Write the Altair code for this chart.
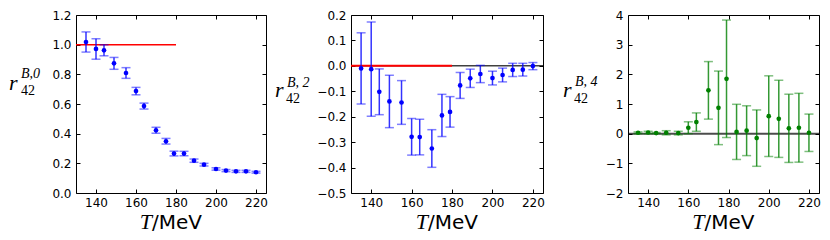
import altair as alt
import pandas as pd

# ---- data ----
T = [135, 140, 144, 149, 155, 160, 164, 170, 175, 179, 184, 189, 194, 200, 205, 210, 215, 220]

r0 = [1.018, 0.971, 0.962, 0.874, 0.809, 0.687, 0.586, 0.423, 0.349, 0.266,
      0.266, 0.218, 0.191, 0.162, 0.151, 0.146, 0.146, 0.140]
e0 = [0.068, 0.069, 0.037, 0.040, 0.036, 0.025, 0.020, 0.020, 0.019, 0.016,
      0.015, 0.011, 0.009, 0.008, 0.007, 0.007, 0.007, 0.006]

r2 = [-0.010, -0.013, -0.102, -0.140, -0.144, -0.279, -0.280, -0.325, -0.195, -0.181,
      -0.077, -0.049, -0.032, -0.048, -0.036, -0.016, -0.015, -0.001]
e2 = [0.140, 0.185, 0.090, 0.103, 0.086, 0.072, 0.070, 0.074, 0.083, 0.060,
      0.051, 0.036, 0.034, 0.027, 0.027, 0.026, 0.025, 0.014]

r4 = [0.03, 0.04, 0.02, 0.03, 0.02, 0.20, 0.39, 1.46, 0.87, 1.85,
      0.06, 0.10, -0.15, 0.59, 0.50, 0.18, 0.20, 0.03]
e4 = [0.03, 0.04, 0.02, 0.07, 0.06, 0.20, 0.31, 0.97, 1.24, 1.98,
      0.93, 0.84, 0.95, 1.36, 1.30, 1.15, 1.16, 0.63]

x_domain = [130, 225]
x_ticks = [140, 160, 180, 200, 220]

y0_domain = [0.0, 1.2]
y0_ticks = [0.0, 0.2, 0.4, 0.6, 0.8, 1.0, 1.2]
y2_domain = [-0.5, 0.2]
y2_ticks = [-0.5, -0.4, -0.3, -0.2, -0.1, 0.0, 0.1, 0.2]
y4_domain = [-2, 4]
y4_ticks = [-2, -1, 0, 1, 2, 3, 4]

# reference lines: (x start, x end, y)
red0 = [130, 180, 1.0]
red2 = [130, 180, 0.0]
zero_line = [130, 225, 0.0]

sup_texts = ["B,0", "B, 2", "B, 4"]

H = 178
FONT = "DejaVu Sans"
SERIF = "Liberation Serif"


def label_axis(orient, ticks, fmt):
    return alt.Axis(orient=orient, values=ticks, format=fmt, ticks=False, tickSize=0,
                    domain=False, grid=False, title=None, labelFont=FONT,
                    labelFontSize=12, labelColor="black",
                    labelPadding=5 if orient == "left" else 4)


def tick_axis(orient, ticks):
    return alt.Axis(orient=orient, values=ticks, labels=False, ticks=True, tickSize=4,
                    tickColor="black", tickWidth=1, offset=-4, domain=False,
                    grid=False, title=None)


def panel(vals, errs, color, ydom, yticks, yfmt, width, lines, sup, lab):
    df = pd.DataFrame({"T": T, "v": vals, "e": errs})
    df["lo"] = df["v"] - df["e"]
    df["hi"] = df["v"] + df["e"]
    xs = alt.Scale(domain=x_domain, nice=False, zero=False)
    ys = alt.Scale(domain=ydom, nice=False, zero=False)
    base = alt.Chart(df)

    layers = []
    for (xa, xb, yv, col, sw, op) in lines:
        ldf = pd.DataFrame({"xa": [xa], "xb": [xb], "y": [yv]})
        layers.append(
            alt.Chart(ldf).mark_rule(color=col, strokeWidth=sw, opacity=op).encode(
                x=alt.X("xa:Q", scale=xs, axis=None),
                x2="xb:Q",
                y=alt.Y("y:Q", scale=ys, axis=None),
            )
        )

    bars = base.mark_rule(color=color, strokeWidth=1.5, opacity=0.8).encode(
        x=alt.X("T:Q", scale=xs, axis=label_axis("bottom", x_ticks, "d")),
        y=alt.Y("lo:Q", scale=ys, axis=label_axis("left", yticks, yfmt)),
        y2="hi:Q",
    )
    cap_lo = base.mark_tick(orient="horizontal", size=9, thickness=1.5,
                            color=color, opacity=0.5).encode(
        x=alt.X("T:Q", scale=xs, axis=tick_axis("bottom", x_ticks)),
        y=alt.Y("lo:Q", scale=ys, axis=tick_axis("left", yticks)),
    )
    cap_hi = base.mark_tick(orient="horizontal", size=9, thickness=1.5,
                            color=color, opacity=0.5).encode(
        x=alt.X("T:Q", scale=xs, axis=tick_axis("top", x_ticks)),
        y=alt.Y("hi:Q", scale=ys, axis=tick_axis("right", yticks)),
    )
    pts = base.mark_circle(size=22, opacity=1, color=color).encode(
        x=alt.X("T:Q", scale=xs, axis=None),
        y=alt.Y("v:Q", scale=ys, axis=None),
    )

    rx, ry, sx, sy, bx, by = lab
    tdf = pd.DataFrame({"t": ["r"]})
    r_txt = alt.Chart(tdf).mark_text(align="left", baseline="alphabetic", font=SERIF,
                                     fontStyle="italic", fontSize=22, color="black").encode(
        x=alt.value(rx), y=alt.value(ry), text="t:N")
    sup_txt = alt.Chart(pd.DataFrame({"t": [sup]})).mark_text(
        align="left", baseline="alphabetic", font=SERIF, fontStyle="italic",
        fontSize=14, color="black").encode(x=alt.value(sx), y=alt.value(sy), text="t:N")
    sub_txt = alt.Chart(pd.DataFrame({"t": ["42"]})).mark_text(
        align="left", baseline="alphabetic", font=SERIF,
        fontSize=14, color="black").encode(x=alt.value(bx), y=alt.value(by), text="t:N")

    split = width / 2 - 19
    t_txt = alt.Chart(pd.DataFrame({"t": ["T"]})).mark_text(
        align="right", baseline="alphabetic", font=SERIF, fontStyle="italic",
        fontSize=22, color="black").encode(x=alt.value(split), y=alt.value(214), text="t:N")
    mev_txt = alt.Chart(pd.DataFrame({"t": ["/MeV"]})).mark_text(
        align="left", baseline="alphabetic", font=FONT,
        fontSize=20, color="black").encode(x=alt.value(split), y=alt.value(214), text="t:N")

    layers += [bars, cap_lo, cap_hi, pts, r_txt, sup_txt, sub_txt, t_txt, mev_txt]
    return alt.layer(*layers).resolve_axis(x="independent", y="independent").properties(
        width=width, height=H)


p1 = panel(r0, e0, "#0000ff", y0_domain, y0_ticks, ".1f", 190,
           [(red0[0], red0[1], red0[2], "#ff0000", 1.5, 1.0)],
           sup_texts[0], (-67, 75, -55, 63, -55, 80))
p2 = panel(r2, e2, "#0000ff", y2_domain, y2_ticks, ".1f", 192,
           [(zero_line[0], zero_line[1], zero_line[2], "black", 1.5, 0.75),
            (red2[0], red2[1], red2[2], "#ff0000", 2.0, 1.0)],
           sup_texts[1], (-76, 82, -64, 72, -65, 88))
p3 = panel(r4, e4, "#008000", y4_domain, y4_ticks, "d", 191,
           [(zero_line[0], zero_line[1], zero_line[2], "black", 2.0, 0.7)],
           sup_texts[2], (-65, 82, -53, 71, -54, 88))

chart = alt.hconcat(p1, p2, p3, spacing=85, bounds="flush").properties(
    padding={"left": 0, "top": 0, "right": 0, "bottom": 0}
).configure_view(stroke="black", strokeWidth=1)

chart.save("out.html", embed_options={"renderer": "svg", "actions": False})
